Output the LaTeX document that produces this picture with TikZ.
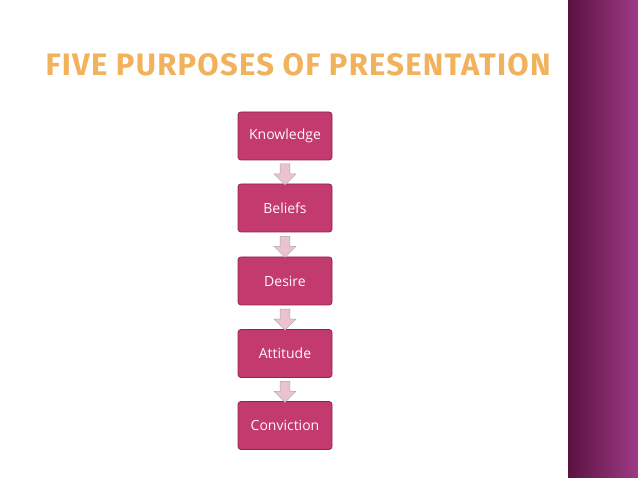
\documentclass[tikz,border=0pt]{standalone}
\usepackage{fontspec}
\setmainfont{Open Sans}
\newfontfamily\titlefont[LetterSpace=4]{Fira Sans}
\usetikzlibrary{shapes.arrows,calc}
\definecolor{boxfill}{HTML}{C23A6E}
\definecolor{boxline}{HTML}{8E2550}
\definecolor{arrfill}{HTML}{EBC3CF}
\definecolor{stripeA}{HTML}{5A1240}
\definecolor{stripeB}{HTML}{9E3A86}
\definecolor{titlecol}{HTML}{F2B25C}
\tikzset{
  stepbox/.style={draw=boxline, line width=0.8pt, fill=boxfill, rounded corners=3pt,
    minimum width=94pt, minimum height=48pt, text=white!90!pink, font=\fontsize{14}{16}\selectfont},
  downarrow/.style={single arrow, shape border rotate=270, draw=gray!70, fill=arrfill,
    minimum width=22pt, minimum height=21pt, single arrow head extend=4pt, inner sep=3pt}
}
\begin{document}
\begin{tikzpicture}[x=1pt,y=-1pt]
\useasboundingbox (0,0) rectangle (638,478);
\fill[white] (0,0) rectangle (638,478);
\shade[left color=stripeA, right color=stripeB] (568,0) rectangle (638,478);
\node[font=\titlefont\bfseries\fontsize{31}{33}\selectfont, text=titlecol, anchor=west] (title) at (42,65) {FIVE PURPOSES OF PRESENTATION};
\node[stepbox] (k) at (285,136) {Knowledge};
\node[stepbox] (b) at (285,208) {Beliefs};
\node[stepbox] (d) at (285,281) {Desire};
\node[stepbox] (a) at (285,353.5) {Attitude};
\node[stepbox] (c) at (285,425.5) {Conviction};
\foreach \u/\v in {k/b,b/d,d/a,a/c}
  \node[downarrow] at ($(\u.south)!0.5!(\v.north)$) {};
\end{tikzpicture}
\end{document}
